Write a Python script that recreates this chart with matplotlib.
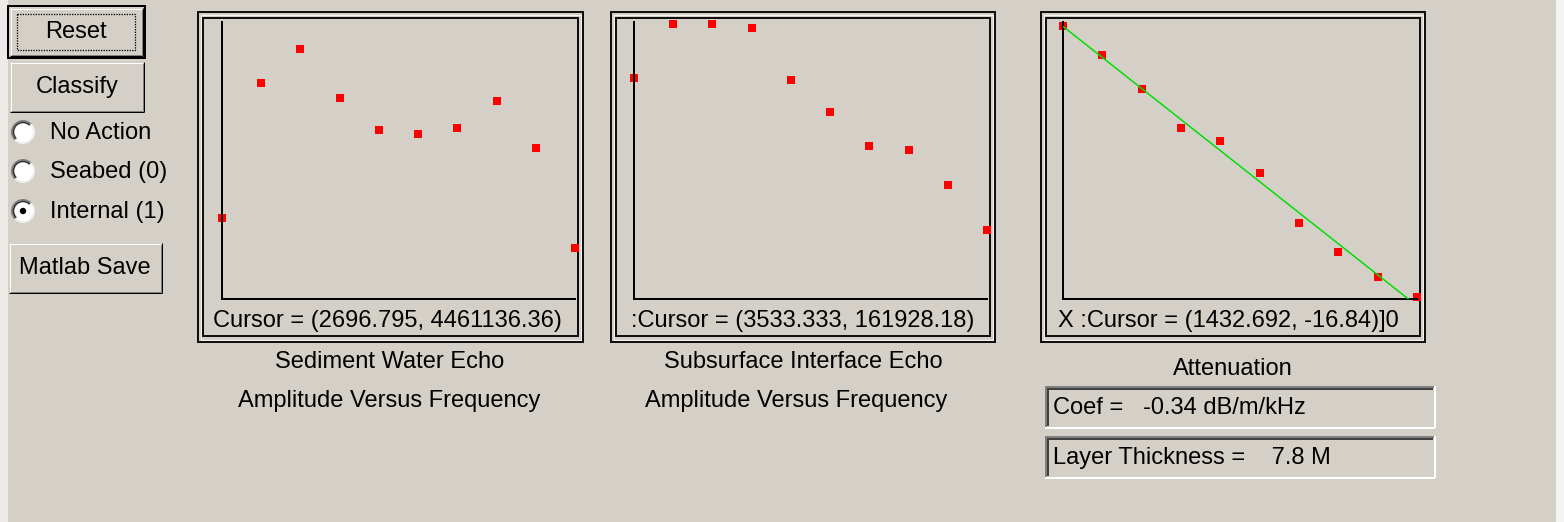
import numpy as np
import matplotlib.pyplot as plt
from matplotlib.patches import Rectangle, Circle, Arc

W, H = 1564, 522
BG = '#d4d0c8'
plt.rcParams['font.family'] = ['Liberation Sans', 'DejaVu Sans']

# data
freq_hz = [1000, 1500, 2000, 2500, 3000, 3500, 4000, 4500, 5000, 5500]
sed_amp = [1.46e6, 3.90e6, 4.51e6, 3.63e6, 3.05e6, 2.98e6, 3.09e6, 3.57e6, 2.73e6, 0.92e6]
sub_amp = [159600, 198600, 198600, 195700, 158100, 135000, 110500, 107600, 82300, 49800]
atten_db = [0.0, -1.93, -4.18, -6.77, -7.64, -9.76, -13.08, -15.01, -16.67, -18.0]

cursor_txt = ['Cursor = (2696.795, 4461136.36)',
              ':Cursor = (3533.333, 161928.18)',
              'X :Cursor = (1432.692, -16.84)]0']
titles = [('Sediment Water Echo', 'Amplitude Versus Frequency'),
          ('Subsurface Interface Echo', 'Amplitude Versus Frequency')]
radio_labels = ['No Action', 'Seabed (0)', 'Internal (1)']
coef_txt = 'Coef =   -0.34 dB/m/kHz'
thick_txt = 'Layer Thickness =    7.8 M'

FS = 17

fig = plt.figure(figsize=(W / 100, H / 100), dpi=100, facecolor=BG)
gui = fig.add_axes([0, 0, 1, 1])
gui.set_xlim(0, W)
gui.set_ylim(H, 0)
gui.axis('off')
gui.set_zorder(0)

PX = 0.72  # one pixel in points


def hline(x0, x1, y, c, lw=1):
    gui.plot([x0, x1], [y, y], color=c, lw=lw * PX, solid_capstyle='butt')


def vline(x, y0, y1, c, lw=1):
    gui.plot([x, x], [y0, y1], color=c, lw=lw * PX, solid_capstyle='butt')


def raised(x0, y0, x1, y1):
    hline(x0, x1, y0 + 0.5, 'white')
    vline(x0 + 0.5, y0, y1, 'white')
    hline(x0, x1, y1 - 0.5, 'black')
    vline(x1 - 0.5, y0, y1, 'black')
    hline(x0 + 1, x1 - 1, y1 - 1.5, '#808080')
    vline(x1 - 1.5, y0 + 1, y1 - 1, '#808080')


def sunken(x0, y0, x1, y1):
    hline(x0, x1, y0 + 0.5, '#808080', 2)
    vline(x0 + 0.5, y0, y1, '#808080', 2)
    hline(x0 + 2, x1 - 2, y0 + 2.5, '#404040', 2)
    vline(x0 + 2.5, y0 + 2, y1 - 2, '#404040', 2)
    hline(x0, x1, y1 - 0.5, 'white', 2)
    vline(x1 - 0.5, y0, y1, 'white', 2)


def frame(x0, y0, x1, y1):
    gui.add_patch(Rectangle((x0, y0), x1 - x0, y1 - y0, fill=False, ec='#101010', lw=2 * PX))
    gui.add_patch(Rectangle((x0 + 2.5, y0 + 2.5), x1 - x0 - 5, y1 - y0 - 5, fill=False, ec='#f4f4f4', lw=1 * PX))
    gui.add_patch(Rectangle((x0 + 5, y0 + 6), x1 - x0 - 10, y1 - y0 - 12, fill=False, ec='#101010', lw=2 * PX))


# left strip / right strip
gui.add_patch(Rectangle((0, 0), 8, H, fc='#ecebe8', ec='none'))
gui.add_patch(Rectangle((W - 8, 0), 8, H, fc='#f4f4f4', ec='none'))

# buttons
gui.add_patch(Rectangle((8, 6), 137, 52, fill=False, ec='black', lw=2 * PX))
raised(10, 8, 143, 56)
gui.add_patch(Rectangle((17, 14), 118, 36, fill=False, ec='black', lw=1.3 * PX, ls=(0, (1, 1))))
gui.text(76, 32, 'Reset', fontsize=FS, ha='center', va='center')
raised(10, 62, 144, 112)
gui.text(77, 87, 'Classify', fontsize=FS, ha='center', va='center')
raised(9, 243, 162, 293)
gui.text(85, 268, 'Matlab Save', fontsize=FS, ha='center', va='center')

# radio buttons
for i, (lab, cy) in enumerate(zip(radio_labels, [132, 171, 211])):
    gui.add_patch(Circle((23, cy), 10.5, fc='white', ec='none'))
    gui.add_patch(Arc((23, cy), 22, 22, theta1=135, theta2=315, color='#808080', lw=2 * PX))
    gui.add_patch(Arc((23, cy), 19, 19, theta1=135, theta2=315, color='#303030', lw=1.5 * PX))
    gui.add_patch(Arc((23, cy), 22, 22, theta1=315, theta2=135, color='#f0f0f0', lw=2 * PX))
    if i == 2:
        gui.add_patch(Circle((23, cy), 3.2, fc='black', ec='none'))
    gui.text(50, cy + 1, lab, fontsize=FS, ha='left', va='center')

# plot frames
frames = [(198, 12, 583, 342), (611, 12, 995, 342), (1041, 12, 1425, 342)]
for f in frames:
    frame(*f)

for (fx, txt) in zip([213, 631, 1058], cursor_txt):
    gui.text(fx, 321, txt, fontsize=FS, ha='left', va='center')

gui.text(390, 362, titles[0][0], fontsize=FS, ha='center', va='center')
gui.text(389, 401, titles[0][1], fontsize=FS, ha='center', va='center')
gui.text(803, 362, titles[1][0], fontsize=FS, ha='center', va='center')
gui.text(796, 401, titles[1][1], fontsize=FS, ha='center', va='center')
gui.text(1233, 369, 'Attenuation', fontsize=FS, ha='center', va='center')

sunken(1045, 386, 1435, 428)
gui.text(1053, 408, coef_txt, fontsize=FS, ha='left', va='center')
sunken(1045, 436, 1435, 478)
gui.text(1053, 458, thick_txt, fontsize=FS, ha='left', va='center')


def px_axes(l, t, r, b):
    ax = fig.add_axes([l / W, 1 - b / H, (r - l) / W, (b - t) / H])
    ax.set_facecolor('none')
    ax.set_xticks([])
    ax.set_yticks([])
    for s in ['top', 'right']:
        ax.spines[s].set_visible(False)
    for s in ['left', 'bottom']:
        ax.spines[s].set_linewidth(2 * PX)
        ax.spines[s].set_color('black')
    return ax


ax1 = px_axes(222, 22, 575, 299)
ax1.plot(freq_hz, sed_amp, 's', color='red', ms=6, mew=0, clip_on=False)
ax1.set_xlim(freq_hz[0], freq_hz[-1])
ax1.set_ylim(0, 5e6)

ax2 = px_axes(634, 22, 987, 299)
ax2.plot(freq_hz, sub_amp, 's', color='red', ms=6, mew=0, clip_on=False)
ax2.set_xlim(freq_hz[0], freq_hz[-1])
ax2.set_ylim(0, 2e5)

ax3 = px_axes(1063, 22, 1417, 299)
ax3.plot(freq_hz, atten_db, 's', color='red', ms=6, mew=0, clip_on=False, zorder=2)
fit = np.polyfit(freq_hz, atten_db, 1)
fx = np.array([freq_hz[0], freq_hz[-1]])
ax3.plot(fx, np.polyval(fit, fx), color='#00dd00', lw=1.5 * PX, zorder=3)
ax3.set_xlim(freq_hz[0], freq_hz[-1])
ax3.set_ylim(-18.13, 0.27)

fig.savefig('out.png', dpi=100, facecolor=BG)
